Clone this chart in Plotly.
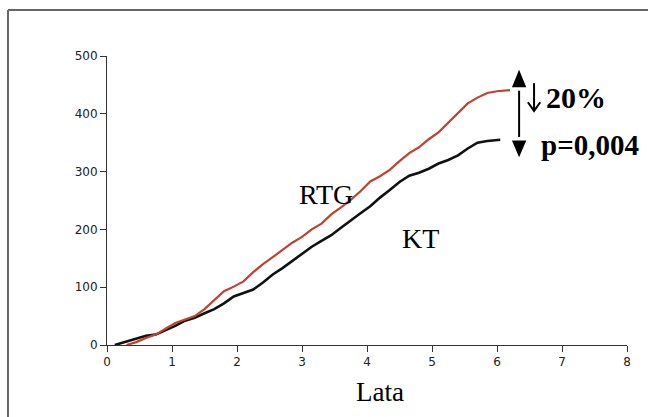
import plotly.graph_objects as go

# Data
rtg_x = [0.30, 0.45, 0.60, 0.75, 0.90, 1.05, 1.20, 1.35, 1.50, 1.65, 1.80, 1.95, 2.10, 2.25, 2.40,
         2.55, 2.70, 2.85, 3.00, 3.15, 3.30, 3.45, 3.60, 3.75, 3.90, 4.05, 4.20, 4.35, 4.50, 4.65,
         4.80, 4.95, 5.10, 5.25, 5.40, 5.55, 5.70, 5.85, 6.00, 6.20]
rtg_y = [0, 5, 12, 18, 28, 38, 44, 50, 62, 78, 93, 101, 110, 126, 140,
         152, 165, 177, 187, 200, 210, 226, 238, 251, 266, 283, 292, 303, 318, 332,
         342, 356, 368, 385, 401, 418, 428, 436, 439, 441]
kt_x = [0.12, 0.30, 0.45, 0.60, 0.75, 0.90, 1.05, 1.20, 1.35, 1.50, 1.65, 1.80, 1.95, 2.10, 2.25,
        2.40, 2.55, 2.70, 2.85, 3.00, 3.15, 3.30, 3.45, 3.60, 3.75, 3.90, 4.05, 4.20, 4.35, 4.50,
        4.65, 4.80, 4.95, 5.10, 5.25, 5.40, 5.55, 5.70, 5.85, 6.05]
kt_y = [0, 6, 12, 16, 18, 25, 33, 42, 47, 55, 62, 72, 84, 90, 96,
        108, 122, 133, 145, 157, 170, 180, 190, 203, 216, 228, 240, 255, 268, 282,
        293, 298, 305, 314, 320, 328, 340, 350, 353, 355]
x_ticks = [0, 1, 2, 3, 4, 5, 6, 7, 8]
y_ticks = [0, 100, 200, 300, 400, 500]

fig = go.Figure()
fig.add_trace(go.Scatter(x=kt_x, y=kt_y, mode="lines", line=dict(color="#111111", width=2.6),
                         name="KT", showlegend=False))
fig.add_trace(go.Scatter(x=rtg_x, y=rtg_y, mode="lines", line=dict(color="#c0432f", width=2.2),
                         name="RTG", showlegend=False))

axis_common = dict(showgrid=False, zeroline=False, showline=True, linecolor="#333333", linewidth=1,
                   ticks="outside", ticklen=6, tickcolor="#333333",
                   tickfont=dict(family="DejaVu Sans", size=12, color="#222222"))
fig.update_xaxes(range=[0, 8], tickvals=x_ticks, **axis_common)
fig.update_yaxes(range=[0, 500], tickvals=y_ticks, **axis_common)

serif = "Liberation Serif"
ann = [
    dict(x=2.2, y=502, text="<b>ZGONY</b>", font=dict(family=serif, size=28, color="black")),
    dict(x=3.37, y=260, text="RTG", font=dict(family=serif, size=28, color="black")),
    dict(x=4.82, y=185, text="KT", font=dict(family=serif, size=28, color="black")),
    dict(x=6.73, y=429, text="<b>20%</b>", xanchor="left", font=dict(family=serif, size=30, color="black")),
    dict(x=6.65, y=346, text="<b>p=0,004</b>", xanchor="left", font=dict(family=serif, size=29, color="black")),
]
for a in ann:
    a.setdefault("xanchor", "center")
    fig.add_annotation(showarrow=False, yanchor="middle", xref="x", yref="y", **a)
fig.add_annotation(x=0.525, y=-0.163, xref="paper", yref="paper", showarrow=False,
                   text="Lata", font=dict(family=serif, size=27, color="black"),
                   xanchor="center", yanchor="middle")

# double-headed arrow
ax = 6.34
fig.add_shape(type="line", x0=ax, x1=ax, y0=440, y1=360, xref="x", yref="y",
              line=dict(color="black", width=2))
fig.add_shape(type="path", xref="x", yref="y",
              path=f"M {ax-0.11} 446 L {ax+0.11} 446 L {ax} 476 Z", fillcolor="black", line=dict(width=0))
fig.add_shape(type="path", xref="x", yref="y",
              path=f"M {ax-0.11} 354 L {ax+0.11} 354 L {ax} 325 Z", fillcolor="black", line=dict(width=0))

# small down arrow before 20%
dx = 6.57
fig.add_shape(type="line", x0=dx, x1=dx, y0=453, y1=406, xref="x", yref="y",
              line=dict(color="black", width=2))
fig.add_shape(type="path", xref="x", yref="y",
              path=f"M {dx-0.095} 420 L {dx} 405 L {dx+0.095} 420", line=dict(color="black", width=2))

# outer frame (top and left)
fig.add_shape(type="line", xref="paper", yref="paper", x0=-0.1904, x1=1.05, y0=1.159, y1=1.159,
              line=dict(color="#666666", width=2))
fig.add_shape(type="line", xref="paper", yref="paper", x0=-0.1904, x1=-0.1904, y0=1.159, y1=-0.26,
              line=dict(color="#666666", width=2))

fig.update_layout(width=648, height=417, margin=dict(l=107, r=21, t=56, b=72),
                  paper_bgcolor="white", plot_bgcolor="white")
fig.write_html("out.html")
